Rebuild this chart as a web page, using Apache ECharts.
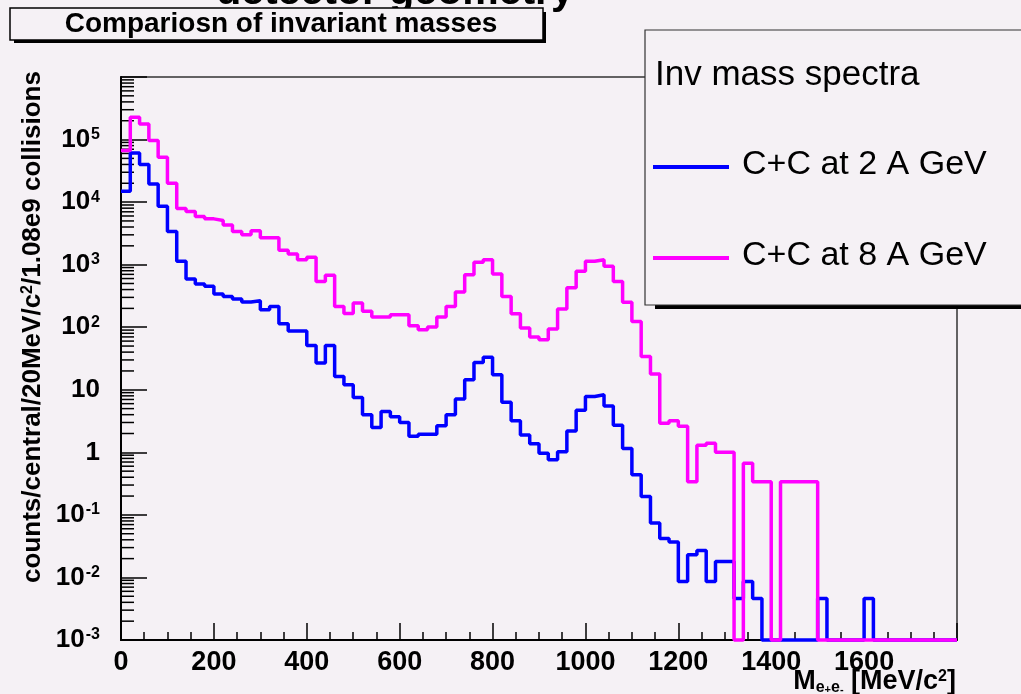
<!DOCTYPE html>
<html>
<head>
<meta charset="utf-8">
<script src="https://cdn.jsdelivr.net/npm/echarts@6/dist/echarts.min.js"></script>
<style>
  html, body { margin: 0; padding: 0; background: #f5f1f5; }
  #chart { width: 1021px; height: 694px; }
</style>
</head>
<body>
<div id="chart"></div>
<script>
// ---------------- data ----------------
const BIN_WIDTH = 20;            // MeV/c^2 per bin
const X_MIN = 0, X_MAX = 1800;   // histogram range
const binLowEdges = Array.from({ length: (X_MAX - X_MIN) / BIN_WIDTH }, (_, i) => X_MIN + i * BIN_WIDTH);

// C+C at 2 A GeV (blue), one value per 20 MeV bin, 0 = empty bin
const cc2AGeV = [
  1.49e4, 6.1e4, 4.0e4, 1.95e4, 8.6e3, 3.4e3, 1.13e3, 590, 491, 450,
  340, 311, 282, 253, 265, 190, 215, 114, 87, 87,
  51, 26.7, 51, 16.3, 12, 7.5, 4.0, 2.5, 4.5, 3.7,
  3.0, 1.8, 1.95, 1.95, 2.65, 4.0, 7.1, 14.5, 27.4, 33,
  17.4, 6.3, 3.2, 1.9, 1.37, 0.97, 0.76, 1.02, 2.2, 4.7,
  7.8, 8.3, 5.5, 2.7, 1.15, 0.44, 0.196, 0.074, 0.042, 0.037,
  0.0086, 0.023, 0.027, 0.0086, 0.018, 0.018, 0.0046, 0.0086, 0.0046, 0,
  0, 0, 0, 0, 0, 0.0046, 0, 0, 0, 0,
  0.0046, 0, 0, 0, 0, 0, 0, 0, 0, 0
];

// C+C at 8 A GeV (magenta)
const cc8AGeV = [
  6.7e4, 2.27e5, 1.78e5, 9.7e4, 5.2e4, 2.0e4, 7.9e3, 7.1e3, 5.9e3, 5.4e3,
  5.1e3, 4.3e3, 3.4e3, 3.0e3, 3.5e3, 2.7e3, 2.7e3, 1.7e3, 1.48e3, 1.2e3,
  1.31e3, 540, 680, 215, 165, 245, 180, 146, 146, 158,
  158, 106, 91, 101, 146, 215, 366, 692, 1090, 1200,
  710, 311, 164, 97, 70, 63, 94, 195, 428, 782,
  1130, 1200, 940, 540, 250, 124, 34, 17.8, 2.93, 3.2,
  2.6, 0.34, 1.3, 1.4, 1.0, 1.0, 0, 0.67, 0.34, 0.34,
  0, 0.34, 0.34, 0.34, 0.34, 0, 0, 0, 0, 0,
  0, 0, 0, 0, 0, 0, 0, 0, 0, 0
];

const seriesNames = ['C+C at 2 A GeV', 'C+C at 8 A GeV'];
const Y_MIN = 1e-3, Y_MAX = 1e6;
const xTickHidden = [1800];          // ROOT does not label the last tick
const yDecades = [-3, -2, -1, 0, 1, 2, 3, 4, 5];

const titleText = 'Compariosn of invariant masses';
const clippedTitle = 'detector geometry';
const legendHeader = 'Inv mass spectra';

// ---------------- helpers ----------------
function histPoints(vals) {
  const pts = binLowEdges.map((x, i) => [x, vals[i] > 0 ? vals[i] : Y_MIN]);
  const last = vals[vals.length - 1];
  pts.push([X_MAX, last > 0 ? last : Y_MIN]);
  return pts;
}
const minorY = [];
for (let k = -3; k <= 5; k++) for (let m = 2; m <= 9; m++) minorY.push([0, m * Math.pow(10, k)]);

const BG = '#f5f1f5';
const FONT = '"Liberation Sans", Arial, Helvetica, sans-serif';

const chart = echarts.init(document.getElementById('chart'), null, { renderer: 'canvas' });

const option = {
  backgroundColor: BG,
  animation: false,
  grid: {
    left: 121, right: 64, top: 77, bottom: 54,
    show: true, borderColor: '#333', borderWidth: 1.5,
    containLabel: false, outerBoundsMode: 'none'
  },
  xAxis: {
    type: 'value', min: X_MIN, max: X_MAX, interval: 200,
    axisLine: { show: true, onZero: false, lineStyle: { color: '#000', width: 2 } },
    axisTick: { show: true, inside: true, length: 17, lineStyle: { color: '#000', width: 1.5 } },
    minorTick: { show: true, splitNumber: 4, length: 8, lineStyle: { color: '#000', width: 1.5 } },
    splitLine: { show: false },
    axisLabel: {
      color: '#000', fontFamily: FONT, fontWeight: 'bold', fontSize: 27, margin: 9,
      formatter: v => (xTickHidden.includes(v) ? '' : String(v))
    }
  },
  yAxis: {
    type: 'log', logBase: 10, min: Y_MIN, max: Y_MAX, splitNumber: 9,
    axisLine: { show: true, onZero: false, lineStyle: { color: '#000', width: 2 } },
    axisTick: { show: true, inside: true, length: 26, lineStyle: { color: '#000', width: 1.5 } },
    splitLine: { show: false },
    axisLabel: {
      color: '#000', fontFamily: FONT, fontWeight: 'bold', margin: 21,
      formatter: v => {
        const e = Math.round(Math.log10(v));
        if (!yDecades.includes(e)) return '';
        if (e === 0) return '{b|1}';
        if (e === 1) return '{b|10}';
        return '{b|10}{s|' + e + '}';
      },
      rich: {
        b: { fontFamily: FONT, fontWeight: 'bold', fontSize: 26, lineHeight: 26, padding: [6, 0, 6, 0], verticalAlign: 'middle', color: '#000' },
        s: { fontFamily: FONT, fontWeight: 'bold', fontSize: 16, lineHeight: 16, padding: [0, 0, 0, 1], verticalAlign: 'top', color: '#000' }
      }
    }
  },
  series: [
    {
      name: 'minorTicks', type: 'custom', silent: true, clip: false,
      data: minorY, encode: { x: 0, y: 1 },
      renderItem: (params, api) => {
        const p = api.coord([0, api.value(1)]);
        return { type: 'line', shape: { x1: p[0], y1: p[1], x2: p[0] + 13, y2: p[1] },
                 style: { stroke: '#000', lineWidth: 1.5 } };
      }
    },
    {
      name: seriesNames[0], type: 'line', step: 'end', showSymbol: false, symbol: 'none',
      clip: false, data: histPoints(cc2AGeV),
      lineStyle: { color: '#0000ff', width: 3.5 }, z: 3
    },
    {
      name: seriesNames[1], type: 'line', step: 'end', showSymbol: false, symbol: 'none',
      clip: false, data: histPoints(cc8AGeV),
      lineStyle: { color: '#ff00ff', width: 3.5 }, z: 4
    }
  ],
  graphic: [
    // clipped upper title
    { type: 'text', x: 395, y: 13, z: 10,
      style: { text: clippedTitle, fontFamily: FONT, fontWeight: 'bold', fontSize: 41, fill: '#000',
               textAlign: 'center', textVerticalAlign: 'bottom', verticalAlign: 'bottom' } },
    // title box
    { type: 'rect', z: 10, shape: { x: 14, y: 12, width: 532, height: 31 }, style: { fill: '#000' } },
    { type: 'rect', z: 11, shape: { x: 10, y: 8, width: 533, height: 32 }, style: { fill: BG, stroke: '#000', lineWidth: 1.5 } },
    { type: 'text', z: 12, x: 281, y: 24,
      style: { text: titleText, fontFamily: FONT, fontWeight: 'bold', fontSize: 28, fill: '#000',
               textAlign: 'center', textVerticalAlign: 'middle', verticalAlign: 'middle' } },
    // legend box
    { type: 'rect', z: 10, shape: { x: 655, y: 40, width: 420, height: 269 }, style: { fill: '#000' } },
    { type: 'rect', z: 11, shape: { x: 645, y: 30, width: 420, height: 275 }, style: { fill: BG, stroke: '#333', lineWidth: 1.2 } },
    { type: 'text', z: 12, x: 655, y: 75,
      style: { text: legendHeader, fontFamily: FONT, fontSize: 35, fill: '#000',
               textAlign: 'left', textVerticalAlign: 'middle', verticalAlign: 'middle' } },
    { type: 'line', z: 12, shape: { x1: 653, y1: 167, x2: 729, y2: 167 }, style: { stroke: '#0000ff', lineWidth: 4 } },
    { type: 'text', z: 12, x: 742, y: 165,
      style: { text: seriesNames[0], fontFamily: FONT, fontSize: 34, fill: '#000',
               textAlign: 'left', textVerticalAlign: 'middle', verticalAlign: 'middle' } },
    { type: 'line', z: 12, shape: { x1: 653, y1: 258, x2: 729, y2: 258 }, style: { stroke: '#ff00ff', lineWidth: 4 } },
    { type: 'text', z: 12, x: 742, y: 256,
      style: { text: seriesNames[1], fontFamily: FONT, fontSize: 34, fill: '#000',
               textAlign: 'left', textVerticalAlign: 'middle', verticalAlign: 'middle' } },
    // y axis title
    { type: 'text', z: 12, x: 33, y: 327, rotation: Math.PI / 2,
      style: { text: 'counts/central/20MeV/c{s|2}/1.08e9 collisions',
               fontFamily: FONT, fontWeight: 'bold', fontSize: 26, fill: '#000',
               textAlign: 'center', textVerticalAlign: 'middle', verticalAlign: 'middle',
               rich: { s: { fontFamily: FONT, fontWeight: 'bold', fontSize: 16, verticalAlign: 'top', lineHeight: 16, fill: '#000' } } } },
    // x axis title
    { type: 'text', z: 12, x: 956, y: 682,
      style: { text: '{b|M}{sub|e}{ss|+}{sub|e}{ss|-}{b| [MeV/c}{sup|2}{b|]}',
               fontFamily: FONT, fontWeight: 'bold', fontSize: 27, fill: '#000',
               textAlign: 'right', textVerticalAlign: 'middle', verticalAlign: 'middle',
               rich: {
                 b: { fontFamily: FONT, fontWeight: 'bold', fontSize: 27, lineHeight: 27, padding: [6, 0, 6, 0], verticalAlign: 'middle', fill: '#000' },
                 sub: { fontFamily: FONT, fontWeight: 'bold', fontSize: 16, lineHeight: 16, verticalAlign: 'bottom', fill: '#000' },
                 ss: { fontFamily: FONT, fontWeight: 'bold', fontSize: 11, lineHeight: 24, verticalAlign: 'bottom', fill: '#000' },
                 sup: { fontFamily: FONT, fontWeight: 'bold', fontSize: 16, lineHeight: 16, verticalAlign: 'top', fill: '#000' }
               } } }
  ]
};
chart.setOption(option);
</script>
</body>
</html>
